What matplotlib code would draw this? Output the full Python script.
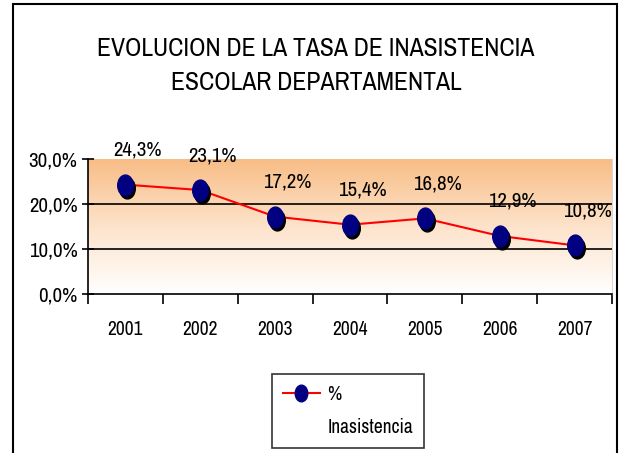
import numpy as np
import matplotlib
matplotlib.use('Agg')
import matplotlib.pyplot as plt
import matplotlib.transforms as mtransforms
from matplotlib.markers import MarkerStyle
from matplotlib.patches import Rectangle
from matplotlib.lines import Line2D
from matplotlib.colors import LinearSegmentedColormap

years = ['2001', '2002', '2003', '2004', '2005', '2006', '2007']
inasistencia = [24.3, 23.1, 17.2, 15.4, 16.8, 12.9, 10.8]
y_ticks = [0, 10, 20, 30]

plt.rcParams['font.family'] = ['Archivo Narrow', 'PT Sans Narrow', 'DejaVu Sans']

fig = plt.figure(figsize=(6.27, 4.53), dpi=100)
ax = fig.add_axes([88 / 627, 1 - 294 / 453, 524 / 627, 135 / 453])

x = np.arange(len(years)) + 0.5

# fondo degradado naranja -> blanco
cmap = LinearSegmentedColormap.from_list('naranja', ['#ffffff', '#fde3cb', '#f8bd86'])
grad = np.linspace(0, 1, 256).reshape(-1, 1)
ax.imshow(grad, extent=[0, len(years), 0, 30], origin='lower', aspect='auto',
          cmap=cmap, zorder=0)

for yv in [10, 20]:
    ax.axhline(yv, color='black', lw=1.2, zorder=1)

mk = MarkerStyle('o', transform=mtransforms.Affine2D().scale(0.75, 1.0))
sombra = mtransforms.offset_copy(ax.transData, fig=fig, x=2, y=-3, units='dots')
ax.plot(x, inasistencia, ls='none', marker=mk, ms=15, color='black', transform=sombra, zorder=3)
ax.plot(x, inasistencia, color='red', lw=1.5, zorder=2)
ax.plot(x, inasistencia, ls='none', marker=mk, ms=15, color='#000080', zorder=4)

for xi, v in zip(x, inasistencia):
    ax.annotate(f'{v:.1f}%'.replace('.', ','), (xi, v), xytext=(9, 18),
                textcoords='offset points', ha='center', va='bottom', fontsize=15)

ax.set_xlim(0, len(years))
ax.set_ylim(0, 30)
ax.set_yticks(y_ticks)
ax.set_yticklabels([f'{t:.1f}%'.replace('.', ',') for t in y_ticks], fontsize=15)
ax.set_xticks(np.arange(len(years) + 1))
ax.set_xticklabels([])
ax.set_xticks(x, minor=True)
ax.set_xticklabels(years, minor=True, fontsize=14)
ax.tick_params(axis='x', which='minor', length=0, pad=19)
ax.tick_params(axis='both', which='major', width=1.2)
ax.tick_params(axis='y', direction='inout', length=8)
ax.tick_params(axis='x', which='major', direction='out', length=7)

ax.spines['top'].set_visible(False)
ax.spines['right'].set_color('#d8d8d8')
ax.spines['right'].set_linewidth(0.8)
for s in ['left', 'bottom']:
    ax.spines[s].set_linewidth(1.2)

fig.text(316 / 627, 1 - 49 / 453, 'EVOLUCION DE LA TASA DE INASISTENCIA',
         ha='center', va='center', fontsize=18.5)
fig.text(316 / 627, 1 - 83 / 453, 'ESCOLAR DEPARTAMENTAL',
         ha='center', va='center', fontsize=18.5)

serie = Line2D([], [], color='red', lw=1.5, marker=mk, ms=12,
               markerfacecolor='#000080', markeredgecolor='#000080')
vacio = Line2D([], [], color='none')
leg = fig.legend([serie, vacio], ['%', 'Inasistencia'], loc='center',
                 bbox_to_anchor=(348 / 627, 1 - 411 / 453), fontsize=14,
                 frameon=True, fancybox=False, edgecolor='black', handlelength=1.9,
                 handletextpad=0.4, labelspacing=0.75, borderpad=0.55)
leg.get_frame().set_linewidth(1.2)

fig.patches.append(Rectangle((13 / 627, -0.05), 604 / 627, 1.05 - 4 / 453,
                             transform=fig.transFigure, fill=False,
                             edgecolor='black', lw=1.5))

fig.savefig('out.png', dpi=100)
